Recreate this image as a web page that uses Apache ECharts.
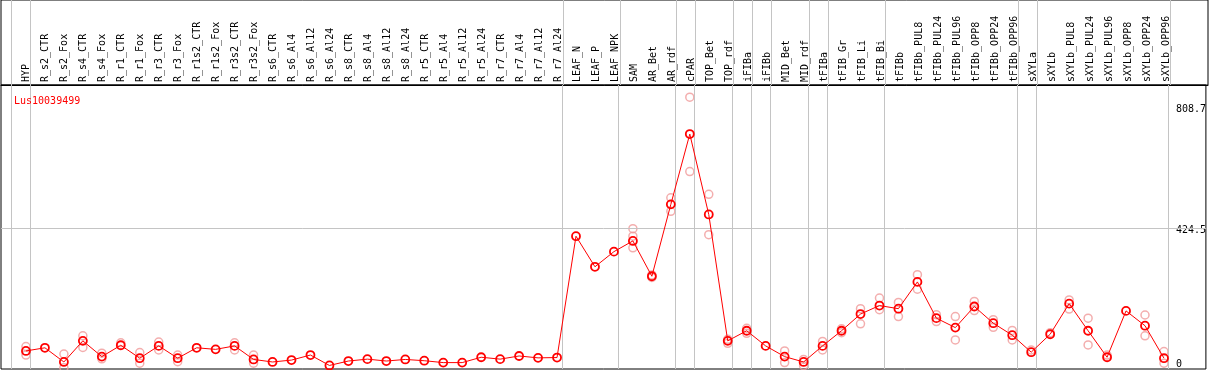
<!DOCTYPE html>
<html>
<head>
<meta charset="utf-8">
<script src="https://cdn.jsdelivr.net/npm/echarts@6/dist/echarts.min.js"></script>
<style>
html,body{margin:0;padding:0;background:#fff;}
#chart{width:1209px;height:370px;}
</style>
</head>
<body>
<div id="chart"></div>
<script>
const chartTitle = "Lus10039499";
const categories = ["HYP","R_s2_CTR","R_s2_Fox","R_s4_CTR","R_s4_Fox","R_r1_CTR","R_r1_Fox","R_r3_CTR","R_r3_Fox","R_r1s2_CTR","R_r1s2_Fox","R_r3s2_CTR","R_r3s2_Fox","R_s6_CTR","R_s6_Al4","R_s6_Al12","R_s6_Al24","R_s8_CTR","R_s8_Al4","R_s8_Al12","R_s8_Al24","R_r5_CTR","R_r5_Al4","R_r5_Al12","R_r5_Al24","R_r7_CTR","R_r7_Al4","R_r7_Al12","R_r7_Al24","LEAF_N","LEAF_P","LEAF_NPK","SAM","AR_Bet","AR_rdf","cPAR","TOP_Bet","TOP_rdf","iFIBa","iFIBb","MID_Bet","MID_rdf","tFIBa","tFIB_Gr","tFIB_Li","tFIB_Bi","tFIBb","tFIBb_PUL8","tFIBb_PUL24","tFIBb_PUL96","tFIBb_OPP8","tFIBb_OPP24","tFIBb_OPP96","sXYLa","sXYLb","sXYLb_PUL8","sXYLb_PUL24","sXYLb_PUL96","sXYLb_OPP8","sXYLb_OPP24","sXYLb_OPP96"];
const meanValues = [35,45,0,67,17,53,12,51,12,45,40,51,8,0,6,22,-11,3,9,3,8,4,-2,-2,15,9,19,13,14,399,302,350,384,272,500,723,468,67,99,51,17,0,51,99,152,179,169,254,139,109,176,123,85,31,88,185,99,15,162,115,12];
const rep1 = [49,null,25,83,28,61,30,63,22,null,null,61,22,null,null,null,null,null,null,null,null,null,null,null,null,null,null,null,null,null,null,null,423,276,521,840,532,59,107,null,35,8,65,105,169,203,189,277,150,144,192,134,100,38,93,197,139,22,null,149,33];
const rep2 = [22,null,-18,46,10,null,-4,38,1,null,null,38,-4,null,null,null,null,null,null,null,null,null,null,null,null,null,null,null,null,null,null,null,399,268,478,604,404,72,91,null,-2,-12,38,93,121,166,144,231,128,70,163,110,70,null,null,168,54,null,null,83,-4];
const rep3 = [null,null,null,null,null,null,null,null,null,null,null,null,null,null,null,null,null,null,null,null,null,null,null,null,null,null,null,null,null,null,null,null,362,null,null,null,null,null,null,null,null,null,null,null,null,null,null,null,null,null,null,null,null,null,null,null,null,null,null,null,null];
const yTickValues = [0, 424.5, 808.7];
const groupBreaksAfter = [-1,0,28,31,34,35,37,38,39,41,42,45,52,53,60];

const FONT = "DejaVu Sans Mono";
const xMin = -1.3158, xMax = 62.2105;
const yMin = -22.3, yMax = 878.7;

function pairs(arr){ return arr.map((v,i)=> v===null ? null : [i, v]).filter(d=>d); }
const sepLines = groupBreaksAfter.map(i => ({xAxis: i + 0.245}));
const sepStyle = {color:'#c4c4c4', width:1, type:'solid'};
const repStyle = {color:'rgba(255,255,255,0)', borderColor:'#f09a9a', borderWidth:1.5};

const chart = echarts.init(document.getElementById('chart'), null, {renderer:'canvas'});
chart.setOption({
  animation:false,
  backgroundColor:'#ffffff',
  title:{text:chartTitle, left:9, top:91, textStyle:{fontFamily:FONT, fontSize:10, fontWeight:'normal', color:'#ff0000'}},
  grid:[
    {left:1, right:1, top:0, height:85, show:true, borderColor:'#000', borderWidth:1, backgroundColor:'transparent'},
    {left:1, right:1, top:85, bottom:1, show:true, borderColor:'#000', borderWidth:1, backgroundColor:'transparent'}
  ],
  xAxis:[
    {gridIndex:0, type:'value', min:xMin, max:xMax, position:'bottom',
     axisLine:{show:true, lineStyle:{color:'#000', width:1}}, axisTick:{show:false}, splitLine:{show:false},
     axisLabel:{show:true, inside:true, rotate:90, margin:3, customValues:categories.map((c,i)=>i),
       formatter:(v)=>categories[Math.round(v)] || '', fontFamily:FONT, fontSize:10, color:'#000'}},
    {gridIndex:1, type:'value', min:xMin, max:xMax, show:false}
  ],
  yAxis:[
    {gridIndex:0, type:'value', min:0, max:1, show:false},
    {gridIndex:1, type:'value', min:yMin, max:yMax, position:'right',
     axisLine:{show:false}, axisTick:{show:false}, splitLine:{show:false},
     axisLabel:{show:true, inside:true, margin:30, align:'left', verticalAlign:'top', customValues:yTickValues,
       formatter:(v)=>String(v), fontFamily:FONT, fontSize:10, color:'#000', padding:[-3,0,0,0]}}
  ],
  series:[
    {type:'line', xAxisIndex:0, yAxisIndex:0, data:[[-5,-5]], symbol:'none', silent:true,
     markLine:{silent:true, symbol:['none','none'], label:{show:false}, lineStyle:sepStyle, data:sepLines}},
    {type:'line', xAxisIndex:1, yAxisIndex:1, data:[[-5,-500]], symbol:'none', silent:true,
     markLine:{silent:true, symbol:['none','none'], label:{show:false}, lineStyle:sepStyle,
       data: sepLines.concat([{yAxis: yTickValues[1]}])}},
    {type:'scatter', xAxisIndex:1, yAxisIndex:1, data:pairs(rep1), symbol:'circle', symbolSize:8, itemStyle:repStyle, z:3},
    {type:'scatter', xAxisIndex:1, yAxisIndex:1, data:pairs(rep2), symbol:'circle', symbolSize:8, itemStyle:repStyle, z:3},
    {type:'scatter', xAxisIndex:1, yAxisIndex:1, data:pairs(rep3), symbol:'circle', symbolSize:8, itemStyle:repStyle, z:3},
    {type:'line', xAxisIndex:1, yAxisIndex:1, data:meanValues.map((v,i)=>[i,v]), symbol:'circle', symbolSize:8, showAllSymbol:true,
     lineStyle:{color:'#ff0000', width:1}, itemStyle:{color:'rgba(255,255,255,0)', borderColor:'#ff0000', borderWidth:1.8}, z:5}
  ]
});
</script>
</body>
</html>
